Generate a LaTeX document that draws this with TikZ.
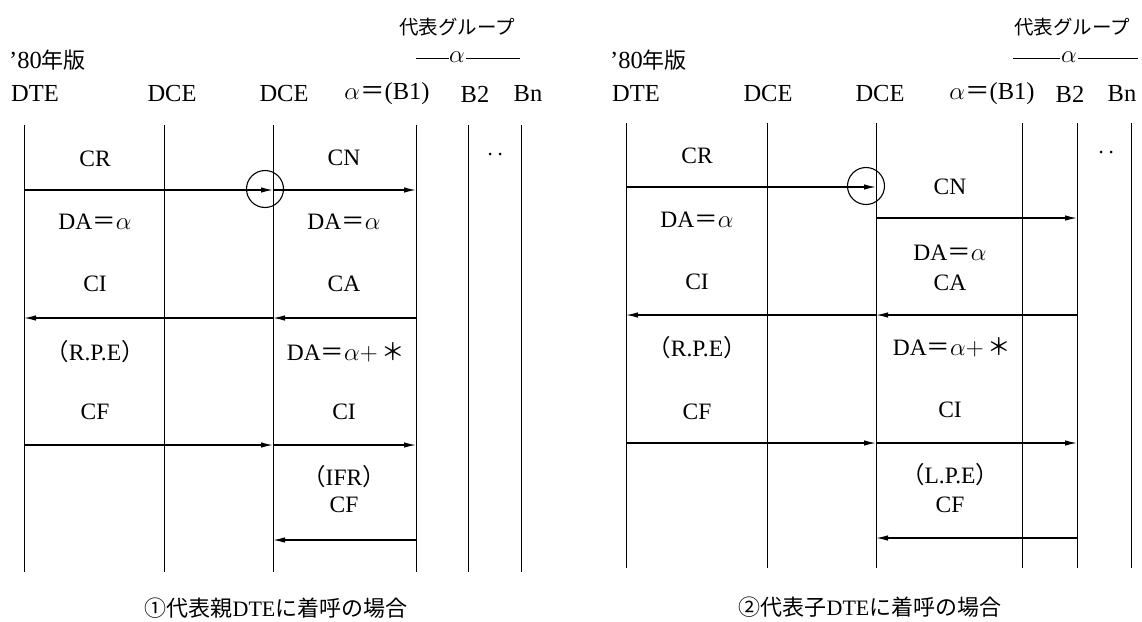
\documentclass[tikz,border=0pt]{standalone}
\usepackage{fontspec}
\setmainfont{Liberation Serif}
\newfontfamily\jp{Noto Sans CJK JP}
\usetikzlibrary{arrows.meta}
\begin{document}
\begin{tikzpicture}[x=1pt,y=-1pt,
  life/.style={line width=0.9pt},
  msg/.style={line width=1.3pt,-{Latex[length=12pt,width=5.5pt]}},
  lbl/.style={font=\fontsize{23.5}{25}\selectfont, inner sep=0pt},
  hdr/.style={font=\fontsize{24.5}{26}\selectfont, inner sep=0pt},
  jptxt/.style={font=\jp\fontsize{19.5}{21}\selectfont, inner sep=0pt},
  captxt/.style={font=\jp\fontsize{22}{24}\selectfont, inner sep=0pt},
  ring/.style={draw, circle, line width=1.1pt, minimum size=37pt, inner sep=0pt},
  dotn/.style={circle, fill, inner sep=0pt, minimum size=3pt},
  thin/.style={line width=0.7pt}
]
\useasboundingbox (0,0) rectangle (1142,621);
% ================= LEFT PANEL =================
\foreach \n/\x in {1/24,2/164,3/273,4/416,5/468,6/521}{
  \coordinate (Lt\n) at (\x,125);
  \coordinate (Lb\n) at (\x,572);
  \draw[life] (Lt\n) -- (Lb\n);
}
% header
\node[jptxt] (Lgrp) at (457,27) {代表グループ};
\node[lbl] (Lal) at (457,57) {$\alpha$};
\coordinate (Lda) at (416,58); \coordinate (Ldb) at (449,58);
\coordinate (Ldc) at (466,58); \coordinate (Ldd) at (520,58);
\draw[thin] (Lda) -- (Ldb); \draw[thin] (Ldc) -- (Ldd);
\node[hdr, anchor=west] (Lver) at (9,60) {'80{\jp\fontsize{22}{24}\selectfont 年版}};
\node[hdr] (Lh1) at (35,94) {DTE};
\node[hdr] (Lh2) at (172,94) {DCE};
\node[hdr] (Lh3) at (284,94) {DCE};
\node[hdr] (Lh4) at (387,94) {$\alpha${\jp ＝}(B1)};
\node[hdr] (Lh5) at (475,94) {B2};
\node[hdr] (Lh6) at (528,94) {Bn};
\node[dotn] (Ldot1) at (490,154) {};
\node[dotn] (Ldot2) at (500,154) {};
% messages
\coordinate (La1) at (24,190); \coordinate (La3) at (273,190); \coordinate (La4) at (416,190);
\draw[msg] (La1) -- (La3); \draw[msg] (La3) -- (La4);
\node[ring] (Lring) at (265,189) {};
\coordinate (Lb4) at (416,318); \coordinate (Lb3) at (273,318); \coordinate (Lb1) at (24,318);
\draw[msg] (Lb4) -- (Lb3); \draw[msg] (Lb3) -- (Lb1);
\coordinate (Lc1) at (24,445); \coordinate (Lc3) at (273,445); \coordinate (Lc4) at (416,445);
\draw[msg] (Lc1) -- (Lc3); \draw[msg] (Lc3) -- (Lc4);
\coordinate (Ld4) at (416,540); \coordinate (Ld3) at (273,540);
\draw[msg] (Ld4) -- (Ld3);
% labels
\node[lbl] (Ll1) at (95,159) {CR};
\node[lbl] (Ll2) at (95,222) {DA{\jp ＝}$\alpha$};
\node[lbl] (Ll3) at (95,284) {CI};
\node[lbl] (Ll4) at (95,352) {{\jp （}R.P.E{\jp ）}};
\node[lbl] (Ll5) at (95,412) {CF};
\node[lbl] (Lr1) at (344,158) {CN};
\node[lbl] (Lr2) at (344,222) {DA{\jp ＝}$\alpha$};
\node[lbl] (Lr3) at (344,284) {CA};
\node[lbl] (Lr4) at (346,352) {DA{\jp ＝}$\alpha{+}$\,{\jp ＊}};
\node[lbl] (Lr5) at (344,412) {CI};
\node[lbl] (Lr6) at (344,477) {{\jp （}IFR{\jp ）}};
\node[lbl] (Lr7) at (344,505) {CF};
\node[captxt] (Lcap) at (276,608) {①代表親{\rmfamily DTE}に着呼の場合};
% ================= RIGHT PANEL =================
\foreach \n/\x in {1/626,2/767,3/876,4/1022,5/1077,6/1131}{
  \coordinate (Rt\n) at (\x,123);
  \coordinate (Rb\n) at (\x,568);
  \draw[life] (Rt\n) -- (Rb\n);
}
\node[jptxt] (Rgrp) at (1072,27) {代表グループ};
\node[lbl] (Ral) at (1069,57) {$\alpha$};
\coordinate (Rda) at (1013,58); \coordinate (Rdb) at (1060,58);
\coordinate (Rdc) at (1078,58); \coordinate (Rdd) at (1138,58);
\draw[thin] (Rda) -- (Rdb); \draw[thin] (Rdc) -- (Rdd);
\node[hdr, anchor=west] (Rver) at (610,60) {'80{\jp\fontsize{22}{24}\selectfont 年版}};
\node[hdr] (Rh1) at (636,94) {DTE};
\node[hdr] (Rh2) at (768,94) {DCE};
\node[hdr] (Rh3) at (880,94) {DCE};
\node[hdr] (Rh4) at (992,94) {$\alpha${\jp ＝}(B1)};
\node[hdr] (Rh5) at (1070,94) {B2};
\node[hdr] (Rh6) at (1122,94) {Bn};
\node[dotn] (Rdot1) at (1101,152) {};
\node[dotn] (Rdot2) at (1111,152) {};
\coordinate (Ra1) at (626,187); \coordinate (Ra3) at (876,187);
\draw[msg] (Ra1) -- (Ra3);
\node[ring] (Rring) at (866,186) {};
\coordinate (Rn3) at (876,218); \coordinate (Rn5) at (1077,218);
\draw[msg] (Rn3) -- (Rn5);
\coordinate (Rb5) at (1077,315); \coordinate (Rb3) at (876,315); \coordinate (Rb1) at (626,315);
\draw[msg] (Rb5) -- (Rb3); \draw[msg] (Rb3) -- (Rb1);
\coordinate (Rc1) at (626,443); \coordinate (Rc3) at (876,443); \coordinate (Rc5) at (1077,443);
\draw[msg] (Rc1) -- (Rc3); \draw[msg] (Rc3) -- (Rc5);
\coordinate (Rd5) at (1077,538); \coordinate (Rd3) at (876,538);
\draw[msg] (Rd5) -- (Rd3);
\node[lbl] (Rl1) at (697,156) {CR};
\node[lbl] (Rl2) at (697,220) {DA{\jp ＝}$\alpha$};
\node[lbl] (Rl3) at (697,282) {CI};
\node[lbl] (Rl4) at (697,348) {{\jp （}R.P.E{\jp ）}};
\node[lbl] (Rl5) at (697,412) {CF};
\node[lbl] (Rr1) at (950,187) {CN};
\node[lbl] (Rr2) at (950,253) {DA{\jp ＝}$\alpha$};
\node[lbl] (Rr3) at (950,283) {CA};
\node[lbl] (Rr4) at (952,347) {DA{\jp ＝}$\alpha{+}$\,{\jp ＊}};
\node[lbl] (Rr5) at (950,410) {CI};
\node[lbl] (Rr6) at (950,475) {{\jp （}L.P.E{\jp ）}};
\node[lbl] (Rr7) at (950,505) {CF};
\node[captxt] (Rcap) at (870,607) {②代表子{\rmfamily DTE}に着呼の場合};
\end{tikzpicture}
\end{document}
